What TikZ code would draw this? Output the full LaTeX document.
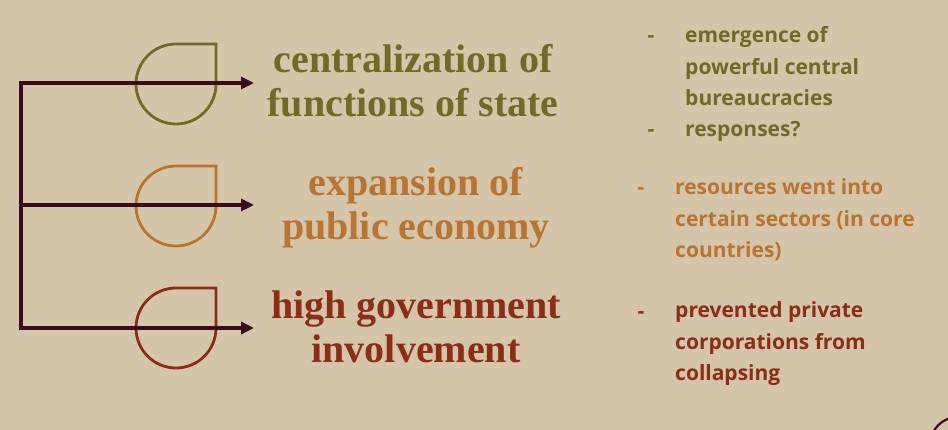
\documentclass[tikz,border=0pt]{standalone}
\usepackage{fontspec}
\setmainfont{Liberation Serif}
\newfontfamily\notefont{Open Sans}
\usetikzlibrary{arrows.meta}
\definecolor{bgcol}{HTML}{D4C5A9}
\definecolor{olivec}{HTML}{706A28}
\definecolor{orangec}{HTML}{B87432}
\definecolor{redc}{HTML}{8C2D19}
\definecolor{plumc}{HTML}{3A0B1E}
\tikzset{
  drop/.style={line width=2.8pt},
  conn/.style={plumc,line width=3.2pt,-{Triangle[length=13pt,width=12pt]}},
  title/.style={font=\fontsize{40}{44}\selectfont\bfseries,align=center,anchor=base,inner sep=0pt},
  note/.style={font=\notefont\fontsize{21}{31.5}\selectfont\bfseries,align=left,anchor=base west,inner sep=0pt},
  dashm/.style={font=\notefont\fontsize{21}{31.5}\selectfont\bfseries,anchor=base,inner sep=0pt}
}
\begin{document}
\begin{tikzpicture}[x=1pt,y=1pt]
\fill[bgcol] (0,0) rectangle (948,430);
\useasboundingbox (0,0) rectangle (948,430);
% teardrops
\draw[drop,olivec] (176,386) -- (216,386) -- (216,346) arc[start angle=0,end angle=-270,radius=40] -- cycle;
\draw[drop,orangec] (176,264) -- (216,264) -- (216,224) arc[start angle=0,end angle=-270,radius=40] -- cycle;
\draw[drop,redc] (176,142) -- (216,142) -- (216,102) arc[start angle=0,end angle=-270,radius=40] -- cycle;
% bracket
\coordinate (b1) at (21,347);
\coordinate (b2) at (21,225);
\coordinate (b3) at (21,102);
\coordinate (t1) at (254,347);
\coordinate (t2) at (254,225);
\coordinate (t3) at (254,102);
\draw[plumc,line width=3.2pt,line cap=rect] (b1) -- (b3);
\draw[conn] (b1) -- (t1);
\draw[conn] (b2) -- (t2);
\draw[conn] (b3) -- (t3);
% titles
\node[title,text=olivec] (h1) at (413,313) {centralization of\\functions of state};
\node[title,text=orangec] (h2) at (416,190) {expansion of\\public economy};
\node[title,text=redc] (h3) at (416,67) {high government\\involvement};
% notes
\node[dashm,text=olivec] (d1) at (651,387) {-};
\node[note,text=olivec] (n1) at (685,324) {emergence of\\powerful central\\bureaucracies};
\node[dashm,text=olivec] (d2) at (651,293) {-};
\node[note,text=olivec] (n2) at (685,293) {responses?};
\node[dashm,text=orangec] (d3) at (641,235) {-};
\node[note,text=orangec] (n3) at (675,172) {resources went into\\certain sectors (in core\\countries)};
\node[dashm,text=redc] (d4) at (641,111) {-};
\node[note,text=redc] (n4) at (675,49) {prevented private\\corporations from\\collapsing};
% corner arc
\begin{scope}
\clip (0,0) rectangle (948,430);
\draw[plumc,line width=2.2pt] (958,-15) circle[radius=28];
\end{scope}
\end{tikzpicture}
\end{document}
